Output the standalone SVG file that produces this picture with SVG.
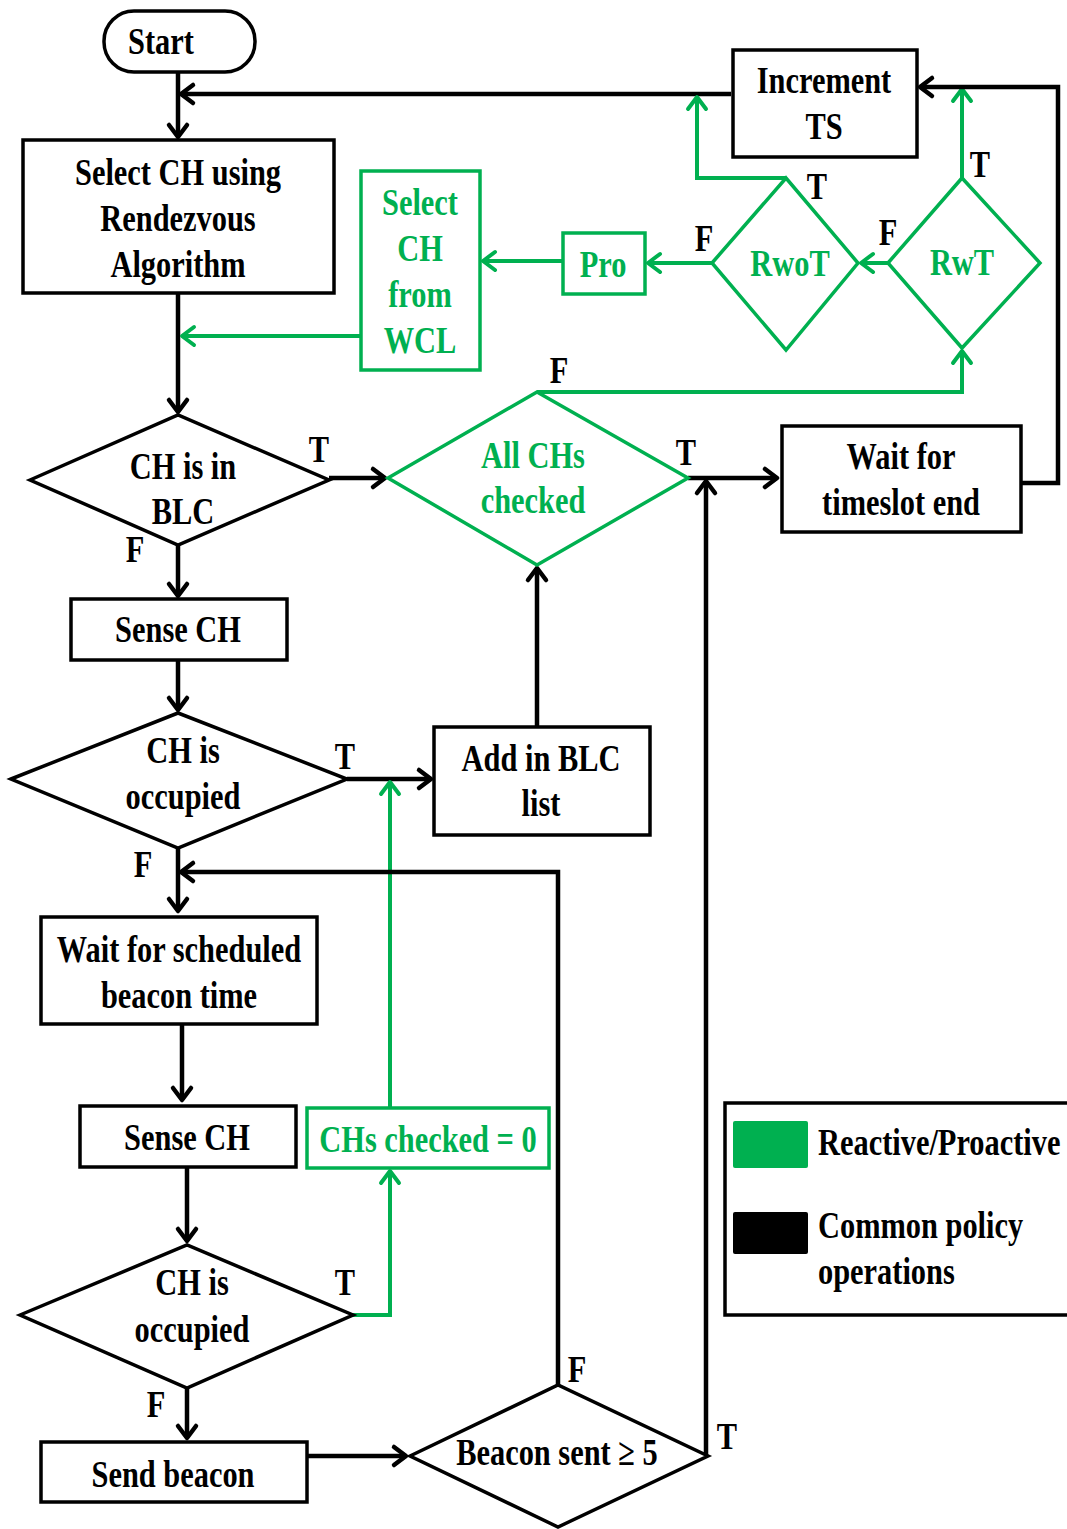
<svg xmlns="http://www.w3.org/2000/svg" width="1067" height="1529" viewBox="0 0 1067 1529">
<defs>
<style>
.t{font-family:"Liberation Serif","Times New Roman",serif;font-weight:bold;font-size:38px;text-anchor:middle;fill:#000}
.g{fill:#00B050}
.l{text-anchor:start}
.bx{fill:#fff;stroke:#000;stroke-width:3.5}
.gb{fill:#fff;stroke:#00B050;stroke-width:3.5}
.k{fill:none;stroke:#000;stroke-width:4.5}
.gk{fill:none;stroke:#00B050;stroke-width:4}
</style>
<marker id="ak" viewBox="-16 -12 20 24" markerWidth="20" markerHeight="24" refX="0" refY="0" orient="auto" markerUnits="userSpaceOnUse" overflow="visible">
<path d="M-12,-9 L0,0 L-12,9" fill="none" stroke="#000" stroke-width="4.5" stroke-linecap="round" stroke-linejoin="round"/>
</marker>
<marker id="ag" viewBox="-16 -12 20 24" markerWidth="20" markerHeight="24" refX="0" refY="0" orient="auto" markerUnits="userSpaceOnUse" overflow="visible">
<path d="M-12,-9 L0,0 L-12,9" fill="none" stroke="#00B050" stroke-width="4" stroke-linecap="round" stroke-linejoin="round"/>
</marker>
</defs>
<rect width="1067" height="1529" fill="#fff"/>

<g id="connectors">
<path class="k" d="M178,72 V137" marker-end="url(#ak)"/>
<path class="k" d="M731,94 H181" marker-end="url(#ak)"/>
<path class="k" d="M178,293 V412" marker-end="url(#ak)"/>
<path class="gk" d="M361,336 H182" marker-end="url(#ag)"/>
<path class="gk" d="M563,261 H483" marker-end="url(#ag)"/>
<path class="gk" d="M712,263 H648" marker-end="url(#ag)"/>
<path class="gk" d="M786,178 H697 V97" marker-end="url(#ag)"/>
<path class="gk" d="M888,263 H861" marker-end="url(#ag)"/>
<path class="gk" d="M962,178 V89" marker-end="url(#ag)"/>
<path class="k" d="M1021,483 H1058 V87 H920" marker-end="url(#ak)"/>
<path class="gk" d="M537,392 H962 V351" marker-end="url(#ag)"/>
<path class="k" d="M329,478 H385" marker-end="url(#ak)"/>
<path class="k" d="M178,545 V596" marker-end="url(#ak)"/>
<path class="k" d="M178,660 V710" marker-end="url(#ak)"/>
<path class="k" d="M347,779 H431" marker-end="url(#ak)"/>
<path class="gk" d="M390,1107 V782" marker-end="url(#ag)"/>
<path class="k" d="M537,727 V568" marker-end="url(#ak)"/>
<path class="k" d="M688,478 H777" marker-end="url(#ak)"/>
<path class="k" d="M706,1456 V481" marker-end="url(#ak)"/>
<path class="k" d="M178,848 V911" marker-end="url(#ak)"/>
<path class="k" d="M558,1387 V872 H181" marker-end="url(#ak)"/>
<path class="k" d="M182,1024 V1100" marker-end="url(#ak)"/>
<path class="k" d="M187,1167 V1241" marker-end="url(#ak)"/>
<path class="gk" d="M353,1315 H390 V1171" marker-end="url(#ag)"/>
<path class="k" d="M187,1388 V1438" marker-end="url(#ak)"/>
<path class="k" d="M307,1456 H406" marker-end="url(#ak)"/>
</g>

<g id="labels">
<text class="t" transform="translate(817,199) scale(0.8,1)">T</text>
<text class="t" transform="translate(704,251) scale(0.8,1)">F</text>
<text class="t" transform="translate(888,245) scale(0.8,1)">F</text>
<text class="t" transform="translate(980,177) scale(0.8,1)">T</text>
<text class="t" transform="translate(559,383) scale(0.8,1)">F</text>
<text class="t" transform="translate(319,462) scale(0.8,1)">T</text>
<text class="t" transform="translate(135,562) scale(0.8,1)">F</text>
<text class="t" transform="translate(686,465) scale(0.8,1)">T</text>
<text class="t" transform="translate(345,769) scale(0.8,1)">T</text>
<text class="t" transform="translate(143,877) scale(0.8,1)">F</text>
<text class="t" transform="translate(345,1295) scale(0.8,1)">T</text>
<text class="t" transform="translate(156,1417) scale(0.8,1)">F</text>
<text class="t" transform="translate(577,1382) scale(0.8,1)">F</text>
<text class="t" transform="translate(727,1449) scale(0.8,1)">T</text>
</g>

<g id="start">
<rect class="bx" x="104" y="11" width="151" height="61" rx="30"/>
<text class="t" transform="translate(161,54) scale(0.8,1)">Start</text>
</g>

<g id="select-ch">
<rect class="bx" x="23" y="140" width="311" height="153"/>
<text class="t" transform="translate(178,185) scale(0.8,1)">Select CH using</text>
<text class="t" transform="translate(178,231) scale(0.8,1)">Rendezvous</text>
<text class="t" transform="translate(178,277) scale(0.8,1)">Algorithm</text>
</g>

<g id="select-wcl">
<rect class="gb" x="361" y="171" width="119" height="199"/>
<text class="t g" transform="translate(420,215) scale(0.8,1)">Select</text>
<text class="t g" transform="translate(420,261) scale(0.8,1)">CH</text>
<text class="t g" transform="translate(420,307) scale(0.8,1)">from</text>
<text class="t g" transform="translate(420,353) scale(0.8,1)">WCL</text>
</g>

<g id="pro">
<rect class="gb" x="563" y="233" width="82" height="61"/>
<text class="t g" transform="translate(603,277) scale(0.8,1)">Pro</text>
</g>

<g id="rwot">
<polygon class="gb" points="712,263 786,178 858,263 786,350"/>
<text class="t g" transform="translate(790,276) scale(0.8,1)">RwoT</text>
</g>

<g id="rwt">
<polygon class="gb" points="888,263 962,178 1040,263 962,348"/>
<text class="t g" transform="translate(962,275) scale(0.8,1)">RwT</text>
</g>

<g id="increment">
<rect class="bx" x="733" y="50" width="184" height="107"/>
<text class="t" transform="translate(824,93) scale(0.8,1)">Increment</text>
<text class="t" transform="translate(824,139) scale(0.8,1)">TS</text>
</g>

<g id="ch-in-blc">
<polygon class="bx" points="30,480 178,415 329,480 178,545"/>
<text class="t" transform="translate(183,479) scale(0.8,1)">CH is in</text>
<text class="t" transform="translate(183,524) scale(0.8,1)">BLC</text>
</g>

<g id="all-chs">
<polygon class="gb" points="388,478 537,392 688,478 537,565"/>
<text class="t g" transform="translate(533,468) scale(0.8,1)">All CHs</text>
<text class="t g" transform="translate(533,513) scale(0.8,1)">checked</text>
</g>

<g id="wait-timeslot">
<rect class="bx" x="782" y="426" width="239" height="106"/>
<text class="t" transform="translate(901,469) scale(0.8,1)">Wait for</text>
<text class="t" transform="translate(901,515) scale(0.8,1)">timeslot end</text>
</g>

<g id="sense-ch-1">
<rect class="bx" x="71" y="599" width="216" height="61"/>
<text class="t" transform="translate(178,642) scale(0.8,1)">Sense CH</text>
</g>

<g id="occupied-1">
<polygon class="bx" points="11,779 178,713 347,779 178,848"/>
<text class="t" transform="translate(183,763) scale(0.8,1)">CH is</text>
<text class="t" transform="translate(183,809) scale(0.8,1)">occupied</text>
</g>

<g id="add-blc">
<rect class="bx" x="434" y="727" width="216" height="108"/>
<text class="t" transform="translate(541,771) scale(0.8,1)">Add in BLC</text>
<text class="t" transform="translate(541,816) scale(0.8,1)">list</text>
</g>

<g id="wait-beacon">
<rect class="bx" x="41" y="917" width="276" height="107"/>
<text class="t" transform="translate(179,962) scale(0.8,1)">Wait for scheduled</text>
<text class="t" transform="translate(179,1008) scale(0.8,1)">beacon time</text>
</g>

<g id="sense-ch-2">
<rect class="bx" x="80" y="1106" width="216" height="61"/>
<text class="t" transform="translate(187,1150) scale(0.8,1)">Sense CH</text>
</g>

<g id="chs-zero">
<rect class="gb" x="307" y="1108" width="242" height="60"/>
<text class="t g" transform="translate(428,1152) scale(0.8,1)">CHs checked = 0</text>
</g>

<g id="occupied-2">
<polygon class="bx" points="20,1315 187,1245 353,1315 187,1388"/>
<text class="t" transform="translate(192,1295) scale(0.8,1)">CH is</text>
<text class="t" transform="translate(192,1342) scale(0.8,1)">occupied</text>
</g>

<g id="send-beacon">
<rect class="bx" x="41" y="1442" width="266" height="60"/>
<text class="t" transform="translate(173,1487) scale(0.8,1)">Send beacon</text>
</g>

<g id="beacon-sent">
<polygon class="bx" points="410,1456 558,1385 708,1456 558,1527"/>
<text class="t" transform="translate(557,1465) scale(0.8,1)">Beacon sent ≥ 5</text>
</g>

<g id="legend">
<rect class="bx" x="725" y="1103" width="350" height="212"/>
<rect x="733" y="1121" width="75" height="47" rx="2" fill="#00B050"/>
<rect x="733" y="1212" width="75" height="42" rx="2" fill="#000"/>
<text class="t l" transform="translate(818,1155) scale(0.8,1)">Reactive/Proactive</text>
<text class="t l" transform="translate(818,1238) scale(0.8,1)">Common policy</text>
<text class="t l" transform="translate(818,1284) scale(0.8,1)">operations</text>
</g>
</svg>
